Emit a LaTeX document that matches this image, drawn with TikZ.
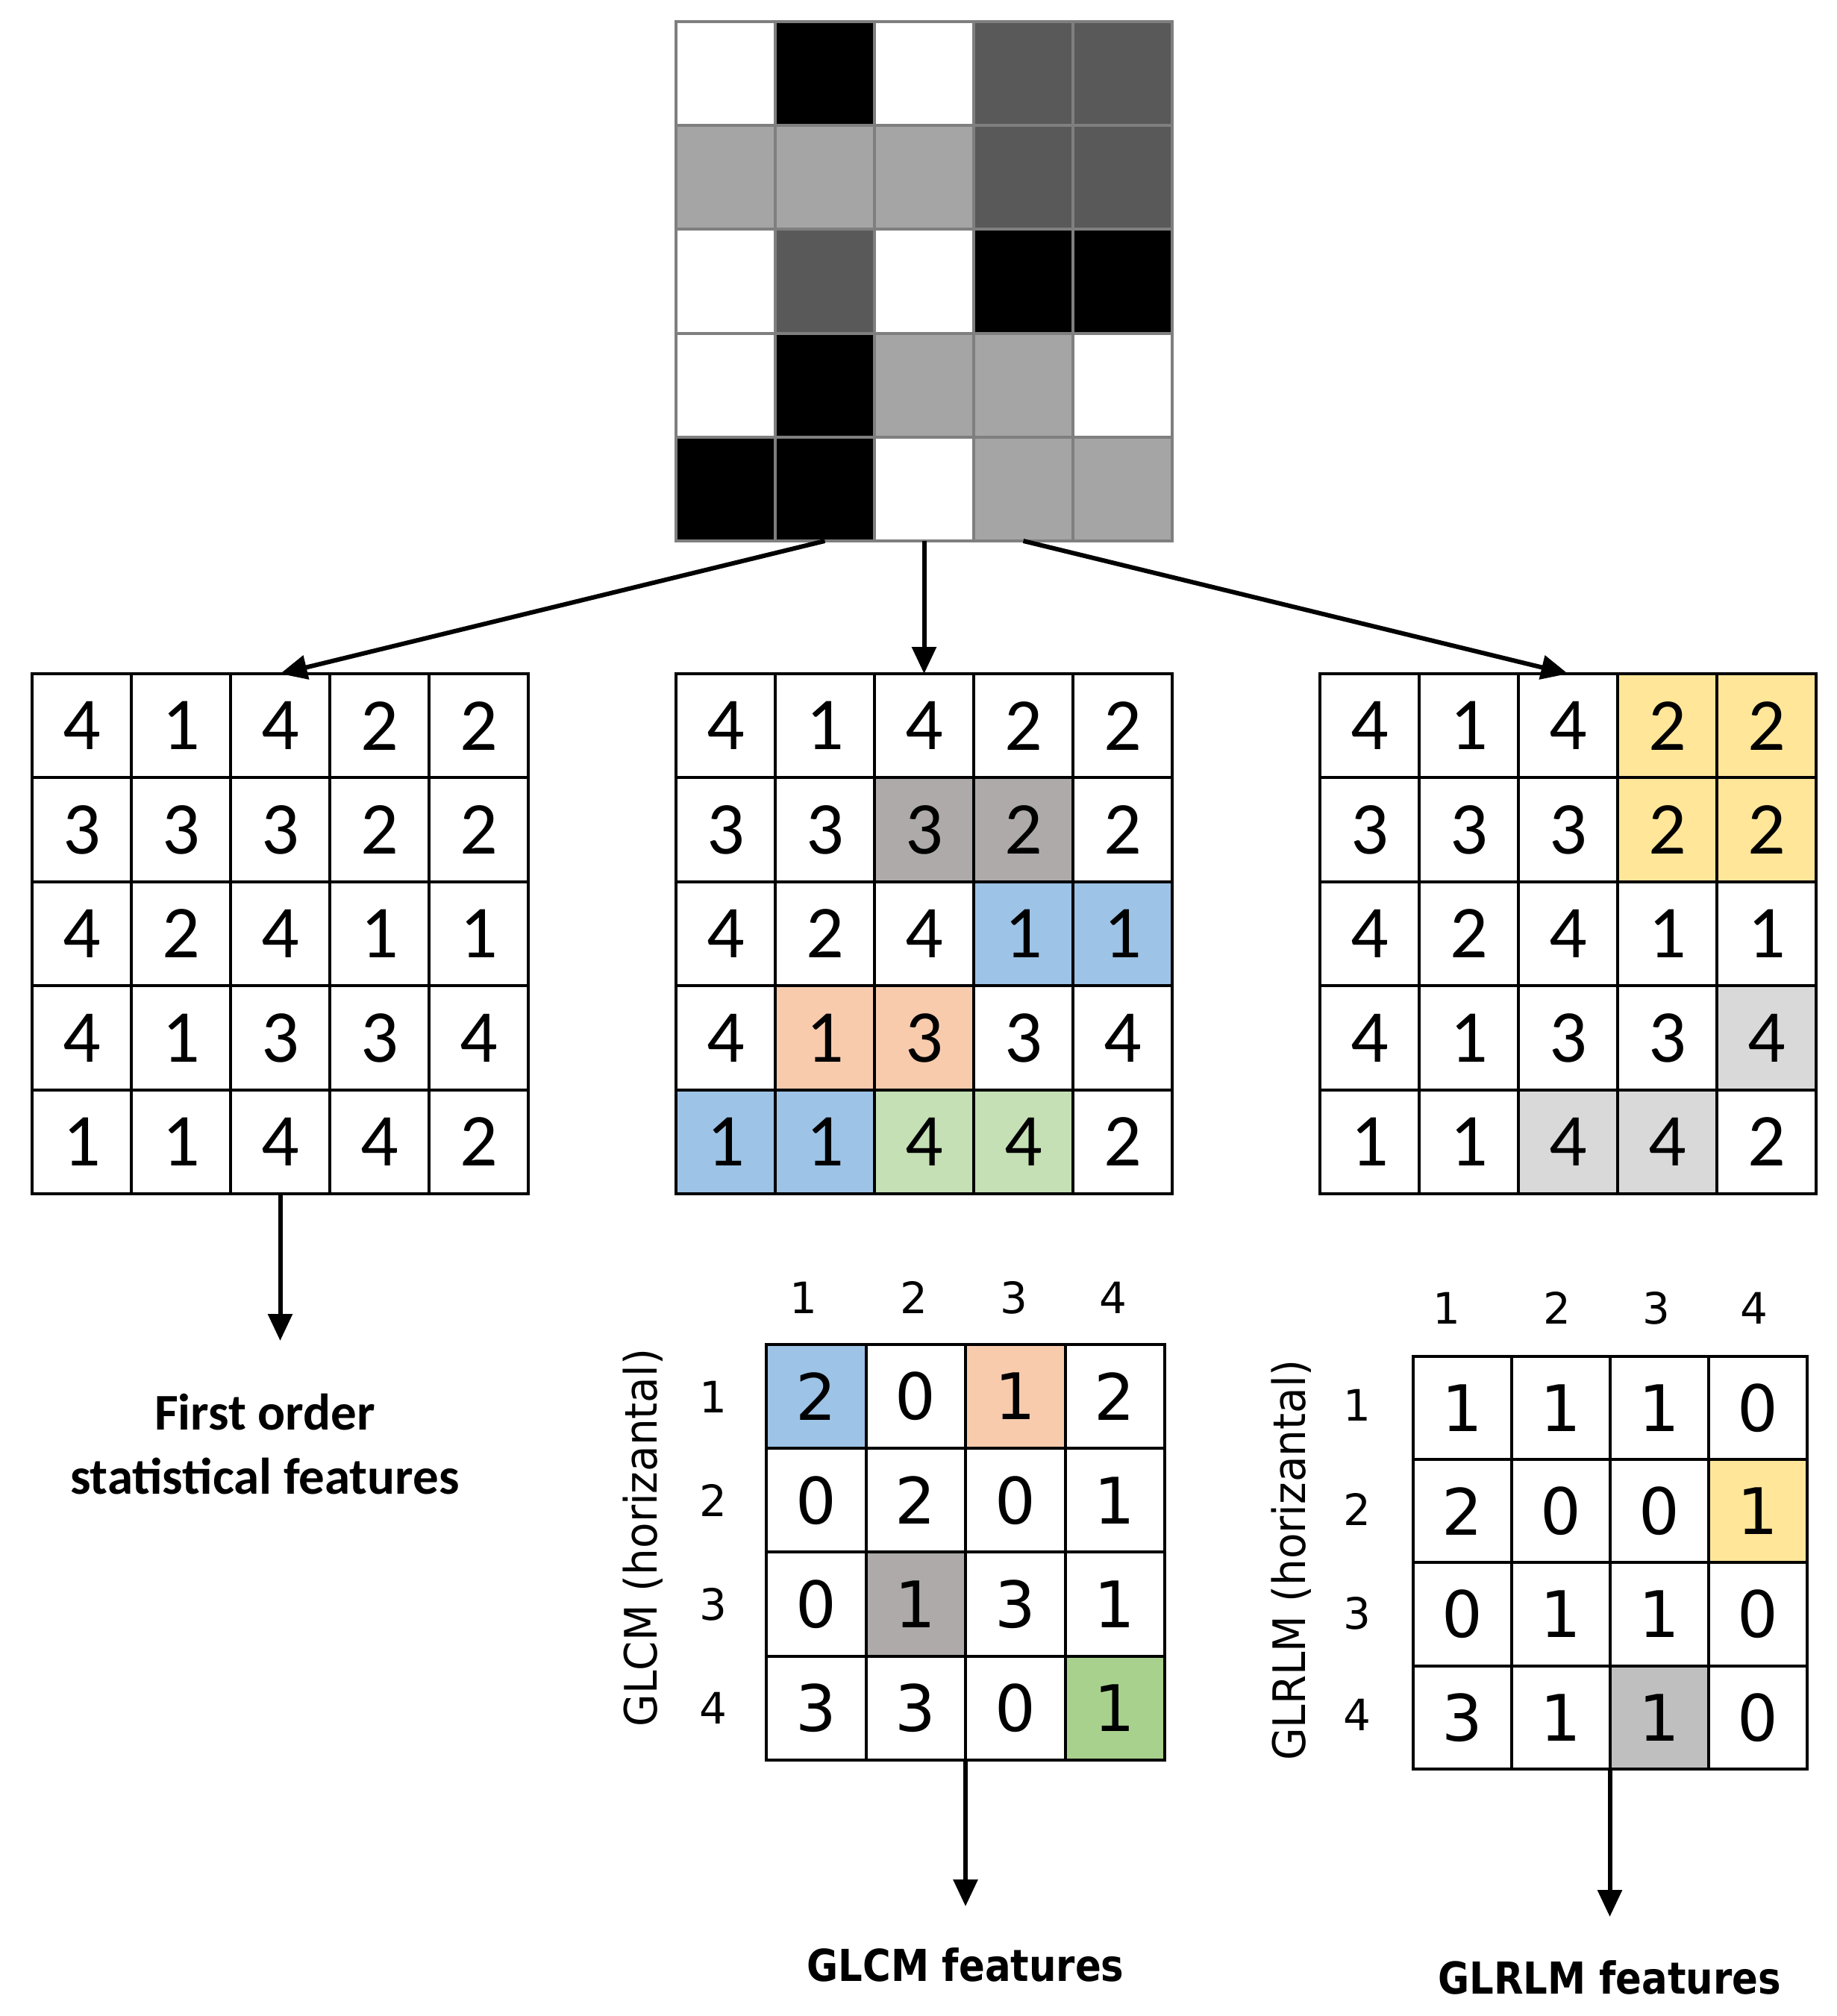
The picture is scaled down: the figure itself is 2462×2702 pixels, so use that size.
\documentclass[tikz,border=0pt]{standalone}
\usepackage{fontspec}
\usepackage{graphicx}
\usetikzlibrary{arrows.meta}
\newfontfamily\calfont{Carlito}
\newfontfamily\tahfont{DejaVu Sans}
\definecolor{dkg}{HTML}{595959}
\definecolor{ltg}{HTML}{A5A5A5}
\definecolor{hgray}{HTML}{AEAAAA}
\definecolor{hblue}{HTML}{9DC3E6}
\definecolor{hpeach}{HTML}{F8CBAD}
\definecolor{hgreenL}{HTML}{C5E0B4}
\definecolor{hgreenD}{HTML}{A9D18E}
\definecolor{hyellow}{HTML}{FFE699}
\definecolor{hlgray}{HTML}{D9D9D9}
\definecolor{hmgray}{HTML}{BFBFBF}
\definecolor{gridgray}{HTML}{7F7F7F}
\newcommand\setfill[4]{\expandafter\def\csname cfill@#1@#2@#3\endcsname{#4}}
% middle matrix
\setfill{B}{2}{3}{hgray}\setfill{B}{2}{4}{hgray}
\setfill{B}{3}{4}{hblue}\setfill{B}{3}{5}{hblue}
\setfill{B}{4}{2}{hpeach}\setfill{B}{4}{3}{hpeach}
\setfill{B}{5}{1}{hblue}\setfill{B}{5}{2}{hblue}
\setfill{B}{5}{3}{hgreenL}\setfill{B}{5}{4}{hgreenL}
% right matrix
\setfill{C}{1}{4}{hyellow}\setfill{C}{1}{5}{hyellow}
\setfill{C}{2}{4}{hyellow}\setfill{C}{2}{5}{hyellow}
\setfill{C}{4}{5}{hlgray}\setfill{C}{5}{3}{hlgray}\setfill{C}{5}{4}{hlgray}
% GLCM
\setfill{G}{1}{1}{hblue}\setfill{G}{1}{3}{hpeach}
\setfill{G}{3}{2}{hgray}\setfill{G}{4}{4}{hgreenD}
% GLRLM
\setfill{R}{2}{4}{hyellow}\setfill{R}{4}{3}{hmgray}

\newcommand\mkgrid[8]{%
  \foreach \v [count=\i from 0] in {#7} {%
    \pgfmathtruncatemacro\rr{int(\i/#6)+1}%
    \pgfmathtruncatemacro\cc{mod(\i,#6)+1}%
    \ifcsname cfill@#1@\rr @\cc\endcsname
      \edef\cfill{\csname cfill@#1@\rr @\cc\endcsname}%
    \else\def\cfill{white}\fi
    \node[cellnode, fill=\cfill, minimum width=#4pt, minimum height=#5pt, font=#8]
      (#1-\rr-\cc) at ({#2+(\cc-0.5)*#4},{#3+(\rr-0.5)*#5}) {\v};
  }%
  \foreach \r in {1,...,#6}{\foreach \c in {1,...,#6}{%
    \draw[gridline] (#1-\r-\c.north west) rectangle (#1-\r-\c.south east);}}%
}

\begin{document}
\begin{tikzpicture}[x=1pt,y=-1pt,
  cellnode/.style={inner sep=0pt, outer sep=0pt, text=black},
  gridline/.style={line width=4pt, draw=black, line join=miter},
  topline/.style={line width=4pt, draw=gridgray, line join=miter},
  arr/.style={line width=6pt, draw=black, -{Triangle[length=36pt,width=32pt]}},
  hdr/.style={anchor=base, font=\tahfont\fontsize{58}{70}\selectfont},
  featlab/.style={anchor=base, font=\tahfont\bfseries\fontsize{59}{70}\selectfont},
  folab/.style={anchor=base, font=\calfont\bfseries\fontsize{69}{84}\selectfont},
  sidelab/.style={rotate=90, font=\tahfont\fontsize{60}{72}\selectfont}]
\fill[white] (0,0) rectangle (2462,2702);
\useasboundingbox (0,0) rectangle (2462,2702);

% top image
\foreach \col [count=\i from 0] in {white,black,white,dkg,dkg, ltg,ltg,ltg,dkg,dkg, white,dkg,white,black,black, white,black,ltg,ltg,white, black,black,white,ltg,ltg} {
  \pgfmathtruncatemacro\rr{int(\i/5)+1}
  \pgfmathtruncatemacro\cc{mod(\i,5)+1}
  \node[cellnode, fill=\col, minimum width=133pt, minimum height=139.2pt]
    (T-\rr-\cc) at ({906+(\cc-0.5)*133},{29+(\rr-0.5)*139.2}) {};
}
\foreach \r in {1,...,5}{\foreach \c in {1,...,5}{%
  \draw[topline] (T-\r-\c.north west) rectangle (T-\r-\c.south east);}}

% three 5x5 matrices
\mkgrid{A}{43}{903}{133}{139.4}{5}{4,1,4,2,2,3,3,3,2,2,4,2,4,1,1,4,1,3,3,4,1,1,4,4,2}{\calfont\fontsize{100}{120}\selectfont}
\mkgrid{B}{906}{903}{133}{139.4}{5}{4,1,4,2,2,3,3,3,2,2,4,2,4,1,1,4,1,3,3,4,1,1,4,4,2}{\calfont\fontsize{100}{120}\selectfont}
\mkgrid{C}{1769}{903}{133}{139.4}{5}{4,1,4,2,2,3,3,3,2,2,4,2,4,1,1,4,1,3,3,4,1,1,4,4,2}{\calfont\fontsize{100}{120}\selectfont}

% GLCM and GLRLM
\mkgrid{G}{1027}{1802}{133.5}{139.2}{4}{2,0,1,2,0,2,0,1,0,1,3,1,3,3,0,1}{\tahfont\fontsize{86}{100}\selectfont}
\mkgrid{R}{1893.5}{1818}{132}{138.2}{4}{1,1,1,0,2,0,0,1,0,1,1,0,3,1,1,0}{\tahfont\fontsize{86}{100}\selectfont}

% GLCM headers
\node[hdr] (gh1) at (1077,1760) {1};
\node[hdr] (gh2) at (1225,1760) {2};
\node[hdr] (gh3) at (1359,1760) {3};
\node[hdr] (gh4) at (1492,1760) {4};
\node[hdr] (gv1) at (956,1893) {1};
\node[hdr] (gv2) at (956,2032) {2};
\node[hdr] (gv3) at (956,2171) {3};
\node[hdr] (gv4) at (956,2310) {4};
\node[sidelab] (glcmlab) at (862,2061) {\scalebox{0.94}[1]{GLCM (horizantal)}};

% GLRLM headers
\node[hdr] (rh1) at (1939,1774) {1};
\node[hdr] (rh2) at (2087,1774) {2};
\node[hdr] (rh3) at (2220,1774) {3};
\node[hdr] (rh4) at (2351,1774) {4};
\node[hdr] (rv1) at (1819,1904) {1};
\node[hdr] (rv2) at (1819,2044) {2};
\node[hdr] (rv3) at (1819,2183) {3};
\node[hdr] (rv4) at (1819,2319) {4};
\node[sidelab] (glrlmlab) at (1731,2091) {\scalebox{0.94}[1]{GLRLM (horizantal)}};

% arrows
\draw[arr] (T-5-2.south) -- (A-1-3.north);
\draw[arr] (T-5-3.south) -- (B-1-3.north);
\draw[arr] (T-5-4.south) -- (C-1-3.north);
\coordinate (Aend) at (375.5,1797);
\coordinate (Gend) at (1294,2555);
\coordinate (Rend) at (2157.5,2569);
\draw[arr] (A-5-3.south) -- (Aend);
\draw[arr] (G-4-2.south east) -- (Gend);
\draw[arr] (R-4-2.south east) -- (Rend);

% labels
\node[folab] (fo1) at (355,1916) {First order};
\node[folab] (fo2) at (355,2002) {statistical features};
\node[featlab] (glcmf) at (1294,2655) {\scalebox{0.87}[1]{GLCM features}};
\node[featlab] (glrlmf) at (2157,2672) {\scalebox{0.87}[1]{GLRLM features}};
\end{tikzpicture}
\end{document}
